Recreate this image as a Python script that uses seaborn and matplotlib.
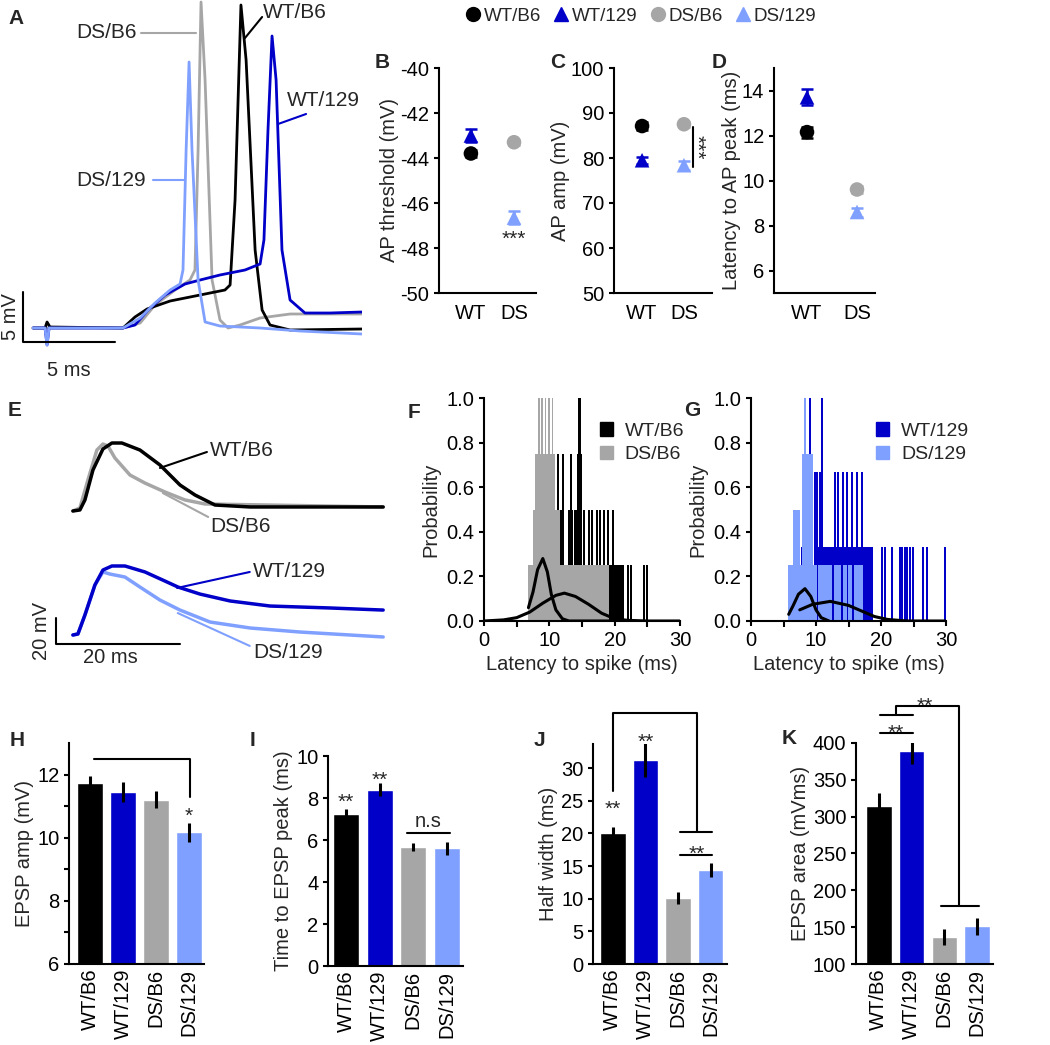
import numpy as np
import pandas as pd
import seaborn as sns
import matplotlib.pyplot as plt
from matplotlib.lines import Line2D
from matplotlib.patches import Patch

sns.set_style("ticks")
plt.rcParams['font.family'] = ['Liberation Sans', 'DejaVu Sans']
plt.rcParams['axes.unicode_minus'] = False
plt.rcParams['axes.linewidth'] = 1.5
plt.rcParams['xtick.major.width'] = 1.5
plt.rcParams['ytick.major.width'] = 1.5
plt.rcParams['xtick.minor.width'] = 1.5
plt.rcParams['xtick.color'] = 'black'
plt.rcParams['ytick.color'] = 'black'
plt.rcParams['axes.edgecolor'] = 'black'

BLACK, BLUE, GRAY, LIGHT = '#000000', '#0000c8', '#a6a6a6', '#80a0ff'
groups = ['WT/B6', 'WT/129', 'DS/B6', 'DS/129']
colors = dict(zip(groups, [BLACK, BLUE, GRAY, LIGHT]))
markers = {'WT/B6': 'o', 'WT/129': '^', 'DS/B6': 'o', 'DS/129': '^'}

# ---- A: action potential traces (ms, mV from baseline)
a_wtb6_t = [0, 0.65, 0.76, 0.92, 4.89, 5.54, 6.2, 7.45, 9.08, 10.43, 10.71, 10.98, 11.3, 11.58, 12.07, 12.45, 12.88, 13.97, 17.88]
a_wtb6_v = [0, 0, 0.6, 0.1, 0, 1.1, 1.9, 2.7, 3.3, 3.8, 4.3, 12.8, 32.3, 26.8, 7.8, 1.8, 0.3, -0.2, -0.1]
a_dsb6_t = [0, 4.89, 5.82, 6.63, 7.72, 8.53, 8.8, 8.97, 9.13, 9.35, 9.73, 10.16, 10.6, 11.25, 12.34, 13.97, 17.88]
a_dsb6_v = [0, 0, 0.5, 2.3, 3.8, 4.8, 5.8, 17.8, 32.6, 24.8, 4.8, 0.8, 0, 0.3, 1.0, 1.4, 1.4]
a_wt129_t = [0, 0.65, 0.76, 0.87, 4.89, 5.54, 6.25, 7.17, 8.26, 9.08, 10.16, 11.52, 12.34, 12.55, 12.77, 12.99, 13.21, 13.53, 13.97, 14.78, 16.14, 17.88]
a_wt129_v = [0, 0, -1.7, 0, 0, 0.3, 1.8, 3.3, 4.4, 4.8, 5.3, 5.8, 6.4, 8.8, 19.8, 29.2, 24.8, 7.8, 2.8, 1.5, 1.5, 1.6]
a_ds129_t = [0, 0.65, 0.76, 0.87, 4.89, 5.82, 6.63, 7.45, 7.99, 8.15, 8.32, 8.48, 8.64, 8.97, 9.35, 10.16, 12.34, 14.51, 17.88]
a_ds129_v = [0, 0, -1.7, 0, 0, 1.0, 2.5, 3.8, 4.4, 5.8, 17.8, 26.6, 17.8, 4.8, 0.6, 0.2, 0, -0.3, -0.6]

# ---- B-D: AP properties (mean, sem)
thr_mean = [-43.8, -43.0, -43.3, -46.65]
thr_sem = [0.15, 0.3, 0.1, 0.3]
amp_mean = [87.1, 79.5, 87.5, 78.4]
amp_sem = [0.8, 0.8, 0.6, 1.0]
lat_mean = [12.15, 13.7, 9.6, 8.6]
lat_sem = [0.25, 0.35, 0.15, 0.2]
geno_x = [0, 0, 1, 1]

# ---- E: EPSP traces (ms, mV from baseline)
e_wtb6_t = [0, 1.13, 1.94, 3.23, 4.84, 6.29, 7.9, 10.81, 14.03, 17.26, 19.68, 22.9, 28.55, 50]
e_wtb6_v = [0, 0.8, 8.5, 31.5, 47.7, 52.3, 52.3, 46.9, 35.4, 20.0, 12.3, 4.6, 3.1, 3.1]
e_dsb6_t = [0, 1.13, 2.42, 3.87, 4.84, 5.65, 6.77, 9.19, 11.61, 14.84, 18.06, 21.29, 50]
e_dsb6_v = [0, 2.3, 23.8, 46.9, 51.5, 50.0, 40.8, 27.7, 21.5, 14.6, 8.5, 5.4, 3.1]
e_wt129_t = [0, 0.81, 1.94, 3.55, 4.84, 6.29, 8.39, 11.61, 14.84, 16.94, 20.48, 25.32, 31.77, 41.45, 50]
e_wt129_v = [0, 0.8, 15.4, 38.5, 50.0, 53.1, 53.1, 48.5, 41.5, 36.9, 31.5, 26.2, 22.3, 20.8, 19.2]
e_ds129_t = [0, 0.81, 1.94, 3.55, 4.84, 5.97, 8.39, 10.81, 14.03, 17.26, 22.1, 28.55, 36.61, 50]
e_ds129_v = [0, 0.8, 15.4, 38.5, 48.5, 46.9, 44.6, 36.9, 26.9, 19.2, 10.0, 5.4, 2.3, -1.5]

# ---- F/G: latency histograms (start ms, end ms, probability)
f_wtb6_lo = [14.45, 11.15, 11.95, 13.15, 14.3, 11.7, 12.85, 13.3, 13.7, 14.75, 15.2, 15.95, 16.45, 17.15, 17.6, 18.25, 18.85, 19.55, 19.1, 21.85, 22.35, 24.4, 24.85]
f_wtb6_hi = [14.8, 11.45, 12.25, 13.45, 15.0, 12.3, 13.15, 13.6, 14.3, 15.05, 15.5, 16.25, 16.75, 17.45, 17.9, 18.55, 19.15, 19.85, 21.4, 22.15, 22.65, 24.65, 25.1]
f_wtb6_p = [1.0, 0.75, 0.75, 0.75, 0.75, 0.5, 0.5, 0.5, 0.5, 0.5, 0.5, 0.5, 0.5, 0.5, 0.5, 0.5, 0.5, 0.5, 0.25, 0.25, 0.25, 0.25, 0.25]
f_dsb6_lo = [6.8, 7.5, 7.8, 8.3, 8.8, 9.3, 9.8, 10.35]
f_dsb6_hi = [19.1, 11.7, 10.9, 8.55, 9.05, 9.55, 10.05, 10.6]
f_dsb6_p = [0.25, 0.5, 0.75, 1.0, 1.0, 1.0, 1.0, 1.0]
g_wt129_lo = [8.95, 10.75, 8.65, 9.65, 10.05, 10.5, 12.75, 13.25, 14.05, 14.65, 15.35, 16.15, 16.95, 9.8, 7.65, 20.05, 20.45, 21.55, 22.75, 23.15, 23.55, 23.85, 24.35, 24.75, 26.35, 26.95, 29.65]
g_wt129_hi = [9.25, 11.05, 8.95, 9.95, 10.35, 10.9, 13.05, 13.55, 14.35, 14.95, 15.65, 16.45, 17.25, 18.8, 7.95, 20.35, 20.75, 21.85, 23.05, 23.45, 23.85, 24.15, 24.65, 25.05, 26.65, 27.25, 29.95]
g_wt129_p = [1.0, 1.0, 0.67, 0.67, 0.67, 0.67, 0.67, 0.67, 0.67, 0.67, 0.67, 0.67, 0.67, 0.33, 0.33, 0.33, 0.33, 0.33, 0.33, 0.33, 0.33, 0.33, 0.33, 0.33, 0.33, 0.33, 0.33]
g_ds129_lo = [5.7, 10.35, 12.75, 14.15, 14.95, 15.85, 6.5, 7.8, 8.1]
g_ds129_hi = [10.1, 12.5, 13.9, 14.7, 15.6, 17.3, 7.5, 9.6, 8.4]
g_ds129_p = [0.25, 0.25, 0.25, 0.25, 0.25, 0.25, 0.5, 0.75, 1.0]

# fitted curves (ms, probability)
f_fit1_t = [6.8, 7.5, 8.2, 9.0, 9.7, 10.3, 11.0, 12.0, 13.0, 20.0]
f_fit1_p = [0.06, 0.13, 0.23, 0.28, 0.22, 0.12, 0.05, 0.01, 0.0, 0.0]
f_fit2_t = [0, 3, 5, 7, 9, 11, 12.3, 14, 16, 18, 20, 22, 25, 30]
f_fit2_p = [0.0, 0.005, 0.015, 0.04, 0.08, 0.115, 0.125, 0.11, 0.075, 0.035, 0.01, 0.003, 0.0, 0.0]
g_fit1_t = [5.8, 6.5, 7.3, 8.3, 9.2, 10.0, 10.8, 12.0]
g_fit1_p = [0.03, 0.07, 0.12, 0.145, 0.11, 0.05, 0.015, 0.0]
g_fit2_t = [7.5, 9.5, 12.2, 15, 17, 19, 21, 24, 30]
g_fit2_p = [0.05, 0.075, 0.088, 0.07, 0.045, 0.02, 0.007, 0.0, 0.0]

# ---- H-K: EPSP properties (mean, sem)
h_mean = [11.72, 11.45, 11.2, 10.18]
h_sem = [0.22, 0.32, 0.27, 0.3]
i_mean = [7.25, 8.4, 5.68, 5.6]
i_sem = [0.25, 0.3, 0.2, 0.3]
j_mean = [20.1, 31.2, 10.1, 14.4]
j_sem = [0.9, 2.6, 0.9, 1.0]
k_mean = [315, 389, 137, 151]
k_sem = [17, 17, 11, 11]

W, H = 1050, 1045
fig = plt.figure(figsize=(W / 100, H / 100), dpi=100)


def add_ax(x0, y0, x1, y1):
    return fig.add_axes([x0 / W, 1 - y1 / H, (x1 - x0) / W, (y1 - y0) / H])


def letter(x, y, s):
    fig.text(x / W, 1 - y / H, s, fontsize=15, fontweight='bold', ha='left', va='center')


def trace(ax, t, v, c, off=0, lw=2):
    sns.lineplot(x=t, y=np.array(v) + off, sort=False, estimator=None, color=c, lw=lw, ax=ax)


FS = 14.5

# ---------------- A
ax = add_ax(20, 0, 362, 385)
ax.set_xlim(-0.71, 17.88)
ax.set_ylim(-5.7, 32.8)
ax.axis('off')
trace(ax, a_dsb6_t, a_dsb6_v, GRAY)
trace(ax, a_wtb6_t, a_wtb6_v, BLACK)
trace(ax, a_wt129_t, a_wt129_v, BLUE)
trace(ax, a_ds129_t, a_ds129_v, LIGHT)
ax.plot([-0.54, -0.54, 4.46], [3.6, -1.4, -1.4], color='k', lw=1.5)
ax.text(-1.25, 1.1, '5 mV', rotation=90, ha='center', va='center', fontsize=FS)
ax.text(1.96, -4.2, '5 ms', ha='center', va='center', fontsize=FS)
ax.plot([5.87, 8.86], [29.5, 29.5], color=GRAY, lw=1.5)
ax.text(5.65, 29.5, 'DS/B6', ha='right', va='center', fontsize=15)
ax.plot([12.45, 11.52], [31.1, 29.0], color=BLACK, lw=1.5)
ax.text(12.5, 31.6, 'WT/B6', ha='left', va='center', fontsize=15)
ax.plot([14.84, 13.32], [21.4, 20.4], color=BLUE, lw=1.5)
ax.text(13.8, 22.7, 'WT/129', ha='left', va='center', fontsize=15)
ax.plot([6.52, 8.2], [14.8, 14.8], color=LIGHT, lw=1.5)
ax.text(6.14, 14.8, 'DS/129', ha='right', va='center', fontsize=15)
letter(8, 18, 'A')


# ---------------- B-D
def ap_panel(box, mean, sem, ylim, yticks, ylabel, xlim):
    ax = add_ax(*box)
    for i, g in enumerate(groups):
        ax.errorbar(geno_x[i], mean[i], yerr=sem[i], fmt='none', ecolor=colors[g], elinewidth=1.8, capsize=4, capthick=1.8)
    df = pd.DataFrame({'x': geno_x, 'y': mean, 'g': groups})
    sns.scatterplot(data=df, x='x', y='y', hue='g', style='g', palette=colors, markers=markers,
                    s=110, linewidth=0, legend=False, ax=ax, zorder=3)
    ax.set_xlim(*xlim)
    ax.set_ylim(*ylim)
    ax.set_yticks(yticks)
    ax.set_xticks([0, 1])
    ax.set_xticklabels(['WT', 'DS'])
    ax.tick_params(axis='x', length=0, pad=8)
    ax.tick_params(labelsize=FS)
    ax.set_xlabel('')
    ax.set_ylabel(ylabel, fontsize=FS, labelpad=1)
    sns.despine(ax=ax)
    return ax


ax = ap_panel((439, 68, 536, 293), thr_mean, thr_sem, (-50, -40), [-50, -48, -46, -44, -42, -40], 'AP threshold (mV)', (-0.74, 1.51))
ax.text(1, -47.87, '***', ha='center', va='baseline', fontsize=15)
letter(375, 62, 'B')

ax = ap_panel((614, 68, 712, 293), amp_mean, amp_sem, (50, 100), [50, 60, 70, 80, 90, 100], 'AP amp (mV)', (-0.67, 1.67))
ax.plot([1.21, 1.21], [86.9, 78.0], color='k', lw=1.5)
ax.text(1.3, 82.4, '***', rotation=270, ha='center', va='center', fontsize=15)
letter(550, 62, 'C')

ax = ap_panel((774, 68, 875, 293), lat_mean, lat_sem, (5, 15), [6, 8, 10, 12, 14], 'Latency to AP peak (ms)', (-0.66, 1.36))
letter(712, 62, 'D')

handles = [Line2D([], [], ls='', marker=markers[g], color=colors[g], ms=10) for g in groups]
fig.legend(handles, groups, loc='center', bbox_to_anchor=(640 / W, 1 - 16 / H), ncol=4, frameon=False,
           fontsize=13.5, handletextpad=0.05, columnspacing=0.6, handlelength=1.0)

# ---------------- E
ax = add_ax(40, 420, 390, 680)
ax.set_xlim(-5.3, 51.1)
ax.set_ylim(-130, 70)
ax.axis('off')
off129 = -95.4
trace(ax, e_dsb6_t, e_dsb6_v, GRAY, lw=2.5)
trace(ax, e_wtb6_t, e_wtb6_v, BLACK, lw=2.5)
trace(ax, e_ds129_t, e_ds129_v, LIGHT, off129, lw=2.5)
trace(ax, e_wt129_t, e_wt129_v, BLUE, off129, lw=2.5)
ax.plot([-2.74, -2.74, 17.26], [-82.3, -102.3, -102.3], color='k', lw=1.5)
ax.text(-5.0, -92.3, '20 mV', rotation=90, ha='center', va='center', fontsize=FS)
ax.text(5.97, -113, '20 ms', ha='center', va='center', fontsize=FS)
ax.plot([14.03, 21.6], [33.1, 45.4], color=BLACK, lw=1.5)
ax.text(22.1, 46.9, 'WT/B6', ha='left', va='center', fontsize=15)
ax.plot([14.5, 21.8], [13.8, -4.6], color=GRAY, lw=1.5)
ax.text(22.1, -12.3, 'DS/B6', ha='left', va='center', fontsize=15)
ax.plot([16.8, 28.5], [-59.2, -46.9], color=BLUE, lw=1.5)
ax.text(29.0, -46.9, 'WT/129', ha='left', va='center', fontsize=15)
ax.plot([16.9, 28.5], [-78.5, -103.8], color=LIGHT, lw=1.5)
ax.text(29.0, -109, 'DS/129', ha='left', va='center', fontsize=15)
letter(8, 410, 'E')


# ---------------- F, G
def hist_panel(box, back, front, fits, labels, leg_x):
    ax = add_ax(*box)
    for lo, hi, p, c in (back, front):
        ax.bar(lo, p, width=np.array(hi) - np.array(lo), align='edge', color=c, linewidth=0)
    for t, p in fits:
        sns.lineplot(x=t, y=p, sort=False, estimator=None, color='k', lw=2.2, ax=ax)
    ax.set_xlim(0, 30)
    ax.set_ylim(0, 1.0)
    ax.set_xticks([0, 10, 20, 30])
    ax.set_xticks([5, 15, 25], minor=True)
    ax.set_yticks(np.arange(0, 1.01, 0.2))
    ax.set_yticklabels(['0.0', '0.2', '0.4', '0.6', '0.8', '1.0'])
    ax.tick_params(labelsize=FS)
    ax.tick_params(axis='x', which='minor', length=4)
    ax.set_xlabel('Latency to spike (ms)', fontsize=FS)
    ax.set_ylabel('Probability', fontsize=FS)
    hs = [Patch(color=labels[2]), Patch(color=labels[3])]
    ax.legend(hs, labels[:2], loc='upper left', bbox_to_anchor=(leg_x, 0.97), frameon=False, fontsize=14,
              handlelength=0.7, handleheight=0.7, handletextpad=0.6, labelspacing=0.3)
    sns.despine(ax=ax)
    return ax


hist_panel((484, 398, 680, 621),
           (f_wtb6_lo, f_wtb6_hi, f_wtb6_p, BLACK), (f_dsb6_lo, f_dsb6_hi, f_dsb6_p, GRAY),
           [(f_fit1_t, f_fit1_p), (f_fit2_t, f_fit2_p)], ['WT/B6', 'DS/B6', BLACK, GRAY], 0.5)
letter(408, 412, 'F')
hist_panel((751, 398, 946, 621),
           (g_wt129_lo, g_wt129_hi, g_wt129_p, BLUE), (g_ds129_lo, g_ds129_hi, g_ds129_p, LIGHT),
           [(g_fit1_t, g_fit1_p), (g_fit2_t, g_fit2_p)], ['WT/129', 'DS/129', BLUE, LIGHT], 0.55)
letter(684, 410, 'G')


# ---------------- H-K
def bar_panel(box, mean, sem, ylim, yticks, ylabel, xlim):
    ax = add_ax(*box)
    df = pd.DataFrame({'g': groups, 'v': mean})
    sns.barplot(data=df, x='g', y='v', hue='g', palette=colors, width=0.78, saturation=1,
                errorbar=None, legend=False, ax=ax)
    ax.errorbar(range(4), mean, yerr=sem, fmt='none', ecolor='k', elinewidth=2.2, capsize=0)
    ax.set_xlim(*xlim)
    ax.set_ylim(*ylim)
    ax.set_yticks(yticks)
    ax.set_xticks(range(4))
    ax.set_xticklabels(groups, rotation=90)
    ax.tick_params(labelsize=FS)
    ax.tick_params(axis='x', length=0)
    ax.set_xlabel('')
    ax.set_ylabel(ylabel, fontsize=FS, labelpad=2)
    sns.despine(ax=ax)
    return ax


def line(ax, xs, ys):
    ax.plot(xs, ys, color='k', lw=1.5, clip_on=False)


def stars(ax, x, y, s='**'):
    ax.text(x, y, s, ha='center', va='baseline', fontsize=15, clip_on=False)


ax = bar_panel((69, 743, 204, 964), h_mean, h_sem, (6, 13), range(6, 13), 'EPSP amp (mV)', (-0.64, 3.45))
ax.set_yticklabels(['6', '', '8', '', '10', '', '12'])
line(ax, [0.12, 3.03, 3.03], [12.48, 12.48, 11.3])
stars(ax, 3.0, 10.5, '*')
letter(10, 740, 'H')

ax = bar_panel((328, 756, 463, 966), i_mean, i_sem, (0, 10), [0, 2, 4, 6, 8, 10], 'Time to EPSP peak (ms)', (-0.54, 3.48))
stars(ax, 0, 7.52)
stars(ax, 1, 8.57)
line(ax, [1.82, 3.09], [6.33, 6.33])
ax.text(2.45, 6.45, 'n.s', ha='center', va='bottom', fontsize=FS)
letter(250, 740, 'I')

ax = bar_panel((593, 744, 727, 964), j_mean, j_sem, (0, 33.7), [0, 5, 10, 15, 20, 25, 30], 'Half width (ms)', (-0.61, 3.5))
line(ax, [0, 0, 2.58, 2.58], [26.5, 38.4, 38.4, 20.2])
line(ax, [2.05, 3.05], [20.2, 20.2])
line(ax, [2.05, 3.05], [16.7, 16.7])
stars(ax, 0, 22.8)
stars(ax, 2.58, 15.9)
stars(ax, 1, 33.1)
letter(534, 740, 'J')

ax = bar_panel((856, 743, 993, 964), k_mean, k_sem, (100, 400), [100, 150, 200, 250, 300, 350, 400], 'EPSP area (mVms)', (-0.7, 3.49))
line(ax, [0.03, 1.03], [413.4, 413.4])
stars(ax, 0.53, 405)
line(ax, [0.03, 1.03], [437.9, 437.9])
line(ax, [0.52, 0.52, 2.46, 2.46], [437.9, 450, 450, 178.7])
line(ax, [1.9, 3.06], [178.7, 178.7])
stars(ax, 1.4, 442)
letter(782, 739, 'K')

fig.savefig('out.png', dpi=100)
